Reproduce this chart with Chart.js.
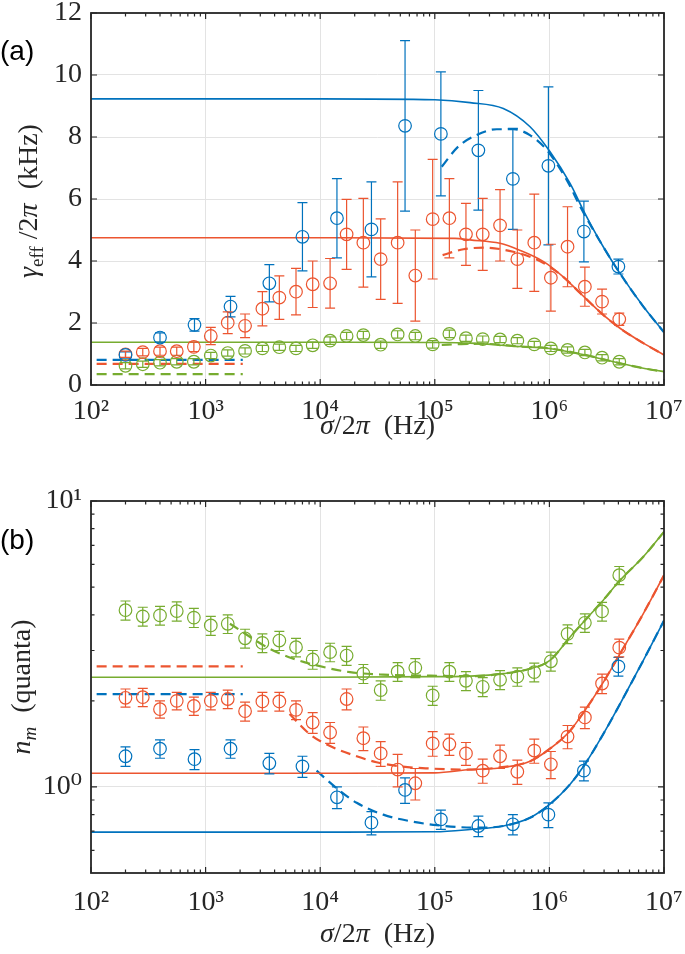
<!DOCTYPE html>
<html>
<head>
<meta charset="utf-8">
<script src="https://cdn.jsdelivr.net/npm/chart.js@4.4.1/dist/chart.umd.min.js"></script>
<style>
  html, body { margin: 0; padding: 0; background: #fff; }
  #wrapA { position: absolute; left: 0; top: 0; width: 685px; height: 460px; }
  #wrapB { position: absolute; left: 0; top: 460px; width: 685px; height: 494px; }
</style>
</head>
<body>
<div id="wrapA"><canvas id="chartA"></canvas></div>
<div id="wrapB"><canvas id="chartB"></canvas></div>
<script>
// ---- measured sigma/2pi positions (Hz)
const sigmaCoarse = [200, 400, 800, 1650, 3600, 7000, 14000, 28000, 55000, 113000, 240000, 480000, 980000, 2.0e6, 4.0e6];
const sigmaFine = [200, 283, 400, 560, 790, 1110, 1560, 2210, 3130, 4400, 6150, 8600, 12200, 17000, 23800,
  33700, 47400, 67600, 95800, 134000, 187000, 262000, 371000, 525000, 738000, 1.03e6, 1.44e6, 2.04e6, 2.88e6, 4.07e6];

// ---- panel (a): gamma_eff / 2pi (kHz)
const gammaBlue = [0.97, 1.53, 1.94, 2.53, 3.28, 4.78, 5.38, 5.02, 8.36, 8.10, 7.57, 6.65, 7.07, 4.95, 3.82];
const gammaBlueErr = [0.1, 0.15, 0.2, 0.33, 0.6, 1.1, 1.28, 1.53, 2.75, 2.0, 1.93, 1.63, 2.55, 0.98, 0.24];
const gammaRed = [0.99, 1.06, 1.09, 1.09, 1.23, 1.58, 2.01, 1.91, 2.46, 2.82, 3.01, 3.25, 3.28, 4.86, 4.59,
  4.06, 4.59, 3.53, 5.35, 5.38, 4.86, 4.86, 5.15, 4.06, 4.59, 3.46, 4.46, 3.17, 2.69, 2.12];
const gammaRedErr = [0.1, 0.12, 0.13, 0.13, 0.15, 0.28, 0.35, 0.38, 0.55, 0.7, 0.75, 0.75, 0.8, 1.13, 1.43,
  1.3, 1.96, 1.47, 1.93, 1.28, 1.0, 1.16, 1.15, 0.94, 1.57, 1.08, 1.29, 0.63, 0.4, 0.2];
const gammaGreen = [0.62, 0.67, 0.72, 0.75, 0.75, 0.95, 1.03, 1.10, 1.18, 1.22, 1.18, 1.28, 1.43, 1.58, 1.61,
  1.30, 1.63, 1.58, 1.31, 1.65, 1.51, 1.48, 1.47, 1.43, 1.31, 1.18, 1.13, 1.05, 0.88, 0.75];
const gammaGreenErr = [0.1, 0.1, 0.1, 0.1, 0.1, 0.1, 0.1, 0.1, 0.1, 0.1, 0.1, 0.1, 0.12, 0.12, 0.12,
  0.12, 0.12, 0.12, 0.12, 0.12, 0.1, 0.1, 0.1, 0.1, 0.1, 0.1, 0.1, 0.1, 0.1, 0.1];

// fits (a)
const fitX = [100, 1e4, 1e5, 2.03e5, 3.96e5, 6.78e5, 1.01e6, 1.51e6, 2.04e6, 2.95e6, 4.13e6, 6.6e6, 1e7];
const gammaBlueFit = [9.23, 9.23, 9.20, 9.11, 8.92, 8.33, 7.53, 6.51, 5.54, 4.46, 3.60, 2.53, 1.70];
const gammaBlueDashX = [1.15e5, 1.6e5, 2.3e5, 3.47e5, 4.85e5, 6.76e5, 9.5e5, 1.42e6, 1.86e6, 2.95e6, 4.13e6, 6.6e6, 1e7];
const gammaBlueDash = [7.04, 7.69, 8.06, 8.25, 8.25, 8.06, 7.58, 6.61, 5.75, 4.46, 3.60, 2.53, 1.70];
const gammaRedFitX = [100, 1e4, 1.5e5, 2.03e5, 3.7e5, 5.5e5, 8.9e5, 1.32e6, 1.86e6, 2.95e6, 4.13e6, 6.6e6, 1e7];
const gammaRedFit = [4.75, 4.75, 4.73, 4.68, 4.57, 4.35, 3.98, 3.49, 2.96, 2.26, 1.83, 1.35, 0.97];
const gammaRedDashX = [1.17e5, 1.78e5, 2.66e5, 4.84e5, 7.24e5, 9.5e5, 1.32e6, 1.86e6, 2.95e6, 4.13e6, 6.6e6, 1e7];
const gammaRedDash = [4.19, 4.38, 4.43, 4.30, 4.09, 3.87, 3.49, 2.96, 2.26, 1.83, 1.35, 0.97];
const gammaGreenFitX = [100, 1e4, 1e5, 2.03e5, 5.5e5, 1e6, 2.04e6, 4.13e6, 6.6e6, 1e7];
const gammaGreenFit = [1.38, 1.38, 1.37, 1.35, 1.24, 1.18, 0.97, 0.70, 0.54, 0.43];
const gammaGreenDashX = [1.15e5, 1.7e5, 2.6e5, 4e5, 5.5e5, 1e6, 2.04e6, 4.13e6, 6.6e6, 1e7];
const gammaGreenDash = [1.29, 1.32, 1.33, 1.29, 1.24, 1.18, 0.97, 0.70, 0.54, 0.43];
const lowDashX = [112, 2110];
const gammaLowBlue = [0.81, 0.81];
const gammaLowRed = [0.68, 0.68];
const gammaLowGreen = [0.35, 0.35];

// ---- panel (b): n_m (quanta)
const nBlue = [1.28, 1.36, 1.25, 1.36, 1.21, 1.18, 0.92, 0.75, 0.976, 0.77, 0.73, 0.74, 0.80, 1.14, 2.64];
const nBlueErr = [0.1, 0.1, 0.1, 0.1, 0.1, 0.1, 0.08, 0.07, 0.1, 0.06, 0.06, 0.06, 0.08, 0.09, 0.2];
const nRed = [2.05, 2.06, 1.87, 2.0, 1.92, 2.0, 2.03, 1.84, 1.99, 1.99, 1.86, 1.68, 1.55, 2.03, 1.48,
  1.31, 1.15, 1.03, 1.42, 1.41, 1.31, 1.14, 1.28, 1.13, 1.34, 1.20, 1.50, 1.75, 2.30, 3.07];
const nRedErr = [0.15, 0.15, 0.13, 0.14, 0.14, 0.14, 0.15, 0.14, 0.15, 0.15, 0.14, 0.14, 0.13, 0.17, 0.14,
  0.13, 0.15, 0.13, 0.14, 0.12, 0.12, 0.11, 0.12, 0.11, 0.13, 0.13, 0.14, 0.15, 0.18, 0.22];
const nGreen = [4.15, 3.95, 3.98, 4.12, 3.91, 3.67, 3.72, 3.31, 3.19, 3.25, 3.08, 2.79, 2.96, 2.88, 2.49,
  2.18, 2.53, 2.61, 2.09, 2.53, 2.35, 2.24, 2.37, 2.43, 2.52, 2.75, 3.43, 3.75, 4.11, 5.50];
const nGreenErr = [0.32, 0.3, 0.3, 0.32, 0.3, 0.28, 0.28, 0.25, 0.24, 0.25, 0.23, 0.21, 0.22, 0.22, 0.19,
  0.17, 0.19, 0.2, 0.16, 0.19, 0.18, 0.17, 0.18, 0.18, 0.19, 0.21, 0.26, 0.28, 0.31, 0.4];

const nBlueFit = [0.695, 0.695, 0.697, 0.71, 0.73, 0.78, 0.87, 1.02, 1.20, 1.53, 1.95, 2.77, 3.82];
const nRedFit = [1.117, 1.117, 1.12, 1.15, 1.17, 1.23, 1.36, 1.57, 1.85, 2.32, 2.92, 4.04, 5.50];
const nGreenFit = [2.42, 2.42, 2.43, 2.44, 2.49, 2.59, 2.77, 3.34, 3.82, 4.50, 5.28, 6.38, 7.80];
const nBlueDashX = [9300, 1.39e4, 2.08e4, 3.55e4, 6.0e4, 1.04e5, 2.32e5, 3.96e5, 6.78e5, 1.01e6, 1.51e6, 2.04e6, 2.95e6, 4.13e6, 6.6e6, 1e7];
const nBlueDash = [1.14, 0.99, 0.88, 0.80, 0.76, 0.735, 0.72, 0.73, 0.78, 0.87, 1.02, 1.20, 1.53, 1.95, 2.77, 3.82];
const nRedDashX = [5400, 8100, 1.22e4, 2.08e4, 3.1e4, 4.97e4, 9.1e4, 1.78e5, 3.7e5, 6.78e5, 1.01e6, 1.51e6, 2.04e6, 2.95e6, 4.13e6, 6.6e6, 1e7];
const nRedDash = [1.80, 1.53, 1.39, 1.28, 1.22, 1.18, 1.16, 1.15, 1.17, 1.23, 1.36, 1.57, 1.85, 2.32, 2.92, 4.04, 5.50];
const nGreenDashX = [1630, 3650, 5830, 9330, 1.82e4, 3.55e4, 8.5e4, 2.03e5, 3.96e5, 6.78e5, 1.01e6, 1.51e6, 2.04e6, 2.95e6, 4.13e6, 6.6e6, 1e7];
const nGreenDash = [3.72, 3.04, 2.81, 2.66, 2.52, 2.47, 2.45, 2.44, 2.49, 2.59, 2.77, 3.34, 3.82, 4.50, 5.28, 6.38, 7.80];
const nLowBlue = [2.11, 2.11];
const nLowRed = [2.64, 2.64];

// ---- axis ticks
const xDecades = [1e2, 1e3, 1e4, 1e5, 1e6, 1e7];
const minorSteps = [2, 3, 4, 5, 6, 7, 8, 9];
const gammaTicks = [0, 2, 4, 6, 8, 10, 12];
const nTicks = [0.6, 0.7, 0.8, 0.9, 1, 2, 3, 4, 5, 6, 7, 8, 9, 10];
const supDigits = ['⁰', '¹', '²', '³', '⁴', '⁵', '⁶', '⁷', '⁸', '⁹'];

const BLUE = '#0072BD', RED = '#EC5530', GREEN = '#77AC30';
const AXIS = '#262626', GRID = '#e3e3e3';
const SERIF = '"Liberation Serif", "DejaVu Serif", serif';

const isDecade = (v) => Math.abs(Math.log10(v) - Math.round(Math.log10(v))) < 1e-9;
const decadeLabel = (v) => isDecade(v) ? '10' + supDigits[Math.round(Math.log10(v))] : '';
const xTickValues = [];
xDecades.forEach((d, i) => {
  xTickValues.push(d);
  if (i < xDecades.length - 1) minorSteps.forEach((m) => xTickValues.push(m * d));
});

const pts = (xs, ys) => xs.map((x, i) => ({ x, y: ys[i] }));

const markers = (xs, ys, errs, color) => ({
  data: pts(xs, ys), errors: errs, showLine: false,
  borderColor: color, backgroundColor: 'rgba(0,0,0,0)',
  pointRadius: 6.3, pointHoverRadius: 6.3, pointBorderWidth: 1.2,
});

const curve = (xs, ys, color, dashed) => ({
  data: pts(xs, ys), showLine: true, pointRadius: 0, pointHoverRadius: 0,
  borderColor: color, borderWidth: dashed ? 2.2 : 1.6,
  borderDash: dashed ? [10, 6] : [],
  cubicInterpolationMode: 'monotone',
});

// error bars, box with inward ticks, axis titles, panel label
const framePlugin = {
  id: 'frame',
  afterDatasetsDraw(chart) {
    const { ctx, scales: { x, y } } = chart;
    chart.data.datasets.forEach((ds) => {
      if (!ds.errors) return;
      ctx.save();
      ctx.strokeStyle = ds.borderColor;
      ctx.lineWidth = 1.2;
      ds.data.forEach((p, j) => {
        const px = x.getPixelForValue(p.x);
        const top = y.getPixelForValue(p.y + ds.errors[j]);
        const bot = y.getPixelForValue(p.y - ds.errors[j]);
        ctx.beginPath();
        ctx.moveTo(px, top); ctx.lineTo(px, bot);
        ctx.moveTo(px - 5, top); ctx.lineTo(px + 5, top);
        ctx.moveTo(px - 5, bot); ctx.lineTo(px + 5, bot);
        ctx.stroke();
      });
      ctx.restore();
    });
  },
  afterDraw(chart, args, opts) {
    const { ctx, chartArea: a, scales: { x, y } } = chart;
    ctx.save();
    ctx.strokeStyle = AXIS;
    ctx.lineWidth = 1.2;
    ctx.beginPath();
    x.ticks.forEach((t) => {
      const px = x.getPixelForValue(t.value);
      const len = isDecade(t.value) ? 6 : 3.5;
      ctx.moveTo(px, a.bottom); ctx.lineTo(px, a.bottom - len);
      ctx.moveTo(px, a.top); ctx.lineTo(px, a.top + len);
    });
    y.ticks.forEach((t) => {
      const py = y.getPixelForValue(t.value);
      const len = opts.yMinor && !isDecade(t.value) ? 3.5 : 6;
      ctx.moveTo(a.left, py); ctx.lineTo(a.left + len, py);
      ctx.moveTo(a.right, py); ctx.lineTo(a.right - len, py);
    });
    ctx.stroke();
    ctx.lineWidth = 1.8;
    ctx.strokeRect(a.left, a.top, a.right - a.left, a.bottom - a.top);
    ctx.restore();

    drawRich(ctx, opts.xTitle, (a.left + a.right) / 2, opts.xTitleY, false);
    drawRich(ctx, opts.yTitle, opts.yTitleX, opts.yTitleY, true);

    ctx.save();
    ctx.fillStyle = '#000';
    ctx.font = '28px "Liberation Sans", Arial, sans-serif';
    ctx.textBaseline = 'middle';
    ctx.textAlign = 'left';
    ctx.fillText(opts.panel, 0, opts.panelY);
    ctx.restore();
  },
};

function drawRich(ctx, segs, cx, cy, rotate) {
  const fontOf = (s) => (s.i ? 'italic ' : '') + (s.sub ? 19 : 28) + 'px ' + SERIF;
  ctx.save();
  ctx.translate(cx, cy);
  if (rotate) ctx.rotate(-Math.PI / 2);
  ctx.fillStyle = AXIS;
  ctx.textBaseline = 'alphabetic';
  let w = 0;
  segs.forEach((s) => { ctx.font = fontOf(s); w += ctx.measureText(s.t).width; });
  let px = -w / 2;
  segs.forEach((s) => {
    ctx.font = fontOf(s);
    ctx.fillText(s.t, px, 9 + (s.sub ? 6 : 0));
    px += ctx.measureText(s.t).width;
  });
  ctx.restore();
}

const xTitle = [{ t: 'σ', i: true }, { t: '/2' }, { t: 'π', i: true }, { t: '  (Hz)' }];

// the first/last tick labels may stick out past the box, as in the original
const noOverhang = (s) => { s.paddingLeft = 0; s.paddingRight = 0; s.paddingTop = 0; s.paddingBottom = 0; };

const xAxis = (height, pad) => ({
  type: 'logarithmic', min: 100, max: 1e7,
  afterBuildTicks: (s) => { s.ticks = xTickValues.map((v) => ({ value: v })); },
  afterFit: (s) => { s.height = height; noOverhang(s); },
  grid: { color: (c) => (c.tick && isDecade(c.tick.value) ? GRID : 'rgba(0,0,0,0)'), drawTicks: false },
  border: { display: false },
  ticks: {
    autoSkip: false, maxRotation: 0, padding: pad, color: AXIS,
    font: { family: SERIF, size: 28 },
    callback: (v) => decadeLabel(v),
  },
});

const common = {
  responsive: true, maintainAspectRatio: false, animation: false,
  events: [],
};

Chart.defaults.font.family = SERIF;

new Chart('chartA', {
  type: 'scatter',
  data: {
    datasets: [
      markers(sigmaCoarse, gammaBlue, gammaBlueErr, BLUE),
      markers(sigmaFine, gammaRed, gammaRedErr, RED),
      markers(sigmaFine, gammaGreen, gammaGreenErr, GREEN),
      curve(fitX, gammaBlueFit, BLUE, false),
      curve(gammaRedFitX, gammaRedFit, RED, false),
      curve(gammaGreenFitX, gammaGreenFit, GREEN, false),
      curve(gammaBlueDashX, gammaBlueDash, BLUE, true),
      curve(gammaRedDashX, gammaRedDash, RED, true),
      curve(gammaGreenDashX, gammaGreenDash, GREEN, true),
      curve(lowDashX, gammaLowBlue, BLUE, true),
      curve(lowDashX, gammaLowRed, RED, true),
      curve(lowDashX, gammaLowGreen, GREEN, true),
    ],
  },
  options: {
    ...common,
    layout: { padding: { top: 13, right: 21, left: 0, bottom: 0 } },
    plugins: {
      legend: { display: false }, tooltip: { enabled: false },
      frame: {
        panel: '(a)', panelY: 52, xTitle, xTitleY: 425,
        yTitle: [{ t: 'γ', i: true }, { t: 'eff', sub: true }, { t: ' /2' }, { t: 'π', i: true }, { t: '  (kHz)' }],
        yTitleX: 28, yTitleY: 201,
      },
    },
    scales: {
      x: xAxis(75, 10),
      y: {
        type: 'linear', min: 0, max: 12,
        afterBuildTicks: (s) => { s.ticks = gammaTicks.map((v) => ({ value: v })); },
        afterFit: (s) => { s.width = 91; noOverhang(s); },
        grid: { color: GRID, drawTicks: false },
        border: { display: false },
        ticks: { padding: 9, color: AXIS, font: { family: SERIF, size: 28, lineHeight: 0.9 } },
      },
    },
  },
  plugins: [framePlugin],
});

new Chart('chartB', {
  type: 'scatter',
  data: {
    datasets: [
      markers(sigmaCoarse, nBlue, nBlueErr, BLUE),
      markers(sigmaFine, nRed, nRedErr, RED),
      markers(sigmaFine, nGreen, nGreenErr, GREEN),
      curve(fitX, nBlueFit, BLUE, false),
      curve(fitX, nRedFit, RED, false),
      curve(fitX, nGreenFit, GREEN, false),
      curve(nBlueDashX, nBlueDash, BLUE, true),
      curve(nRedDashX, nRedDash, RED, true),
      curve(nGreenDashX, nGreenDash, GREEN, true),
      curve(lowDashX, nLowBlue, BLUE, true),
      curve(lowDashX, nLowRed, RED, true),
    ],
  },
  options: {
    ...common,
    layout: { padding: { top: 41, right: 21, left: 0, bottom: 0 } },
    plugins: {
      legend: { display: false }, tooltip: { enabled: false },
      frame: {
        panel: '(b)', panelY: 81, xTitle, xTitleY: 473, yMinor: true,
        yTitle: [{ t: 'n', i: true }, { t: 'm', i: true, sub: true }, { t: '  (quanta)' }],
        yTitleX: 21, yTitleY: 227,
      },
    },
    scales: {
      x: xAxis(81, 13),
      y: {
        type: 'logarithmic', min: 0.5, max: 10,
        afterBuildTicks: (s) => { s.ticks = nTicks.map((v) => ({ value: v })); },
        afterFit: (s) => { s.width = 91; noOverhang(s); },
        grid: { color: (c) => (c.tick && isDecade(c.tick.value) ? GRID : 'rgba(0,0,0,0)'), drawTicks: false },
        border: { display: false },
        ticks: {
          autoSkip: false, padding: 9, color: AXIS,
          font: { family: SERIF, size: 28, lineHeight: 0.9 },
          callback: (v) => decadeLabel(v),
        },
      },
    },
  },
  plugins: [framePlugin],
});
</script>
</body>
</html>
